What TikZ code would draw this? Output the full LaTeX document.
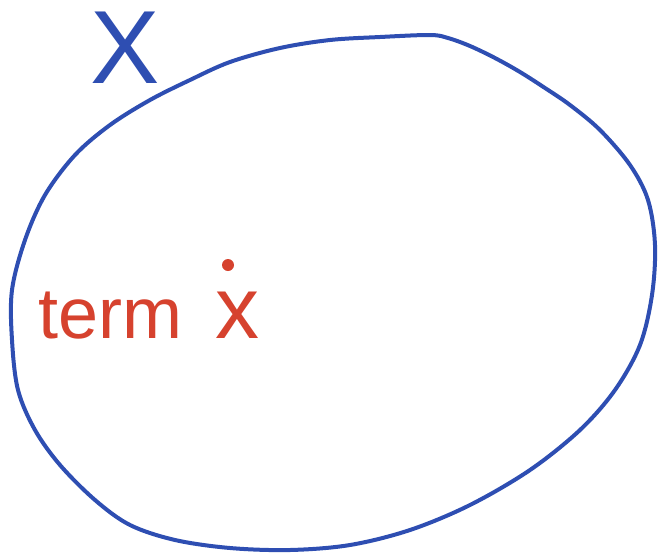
\documentclass[tikz,border=0pt]{standalone}
\usepackage{fontspec}
\setmainfont{Liberation Sans}
\definecolor{penblue}{RGB}{46,78,178}
\definecolor{penred}{RGB}{214,66,46}
\begin{document}
\begin{tikzpicture}[x=0.5pt,y=-0.5pt,
  blueline/.style={draw=penblue,line width=2pt,line cap=round,line join=round},
  redtext/.style={text=penred,inner sep=0pt},
  bluetext/.style={text=penblue,inner sep=0pt}]
\useasboundingbox (0,0) rectangle (660,553);
\draw[blueline] plot[smooth cycle,tension=0.55] coordinates {
 (430,35) (380,37) (330,40) (280,48) (230,62) (190,80) (150,100) (110,125)
 (75,155) (45,195) (25,240) (12,290) (12,340) (18,390) (35,430) (60,465)
 (95,500) (130,525) (175,540) (230,548) (290,550) (350,545) (410,530)
 (470,505) (530,470) (580,430) (615,390) (640,345) (652,295) (655,245)
 (648,200) (630,165) (600,130) (570,105) (545,88) (520,72) (495,58)
 (470,46) (448,38)};
\node[bluetext,anchor=base,font=\fontsize{52}{52}\selectfont] (setX) at (125,83) {X};
\node[redtext,anchor=base west,font=\fontsize{36}{36}\selectfont] (term) at (38,338) {term};
\node[redtext,anchor=base,font=\fontsize{44}{44}\selectfont] (elemx) at (237,338) {x};
\node[circle,fill=penred,inner sep=0pt,minimum size=6pt] (pt) at (228,265) {};
\end{tikzpicture}
\end{document}
